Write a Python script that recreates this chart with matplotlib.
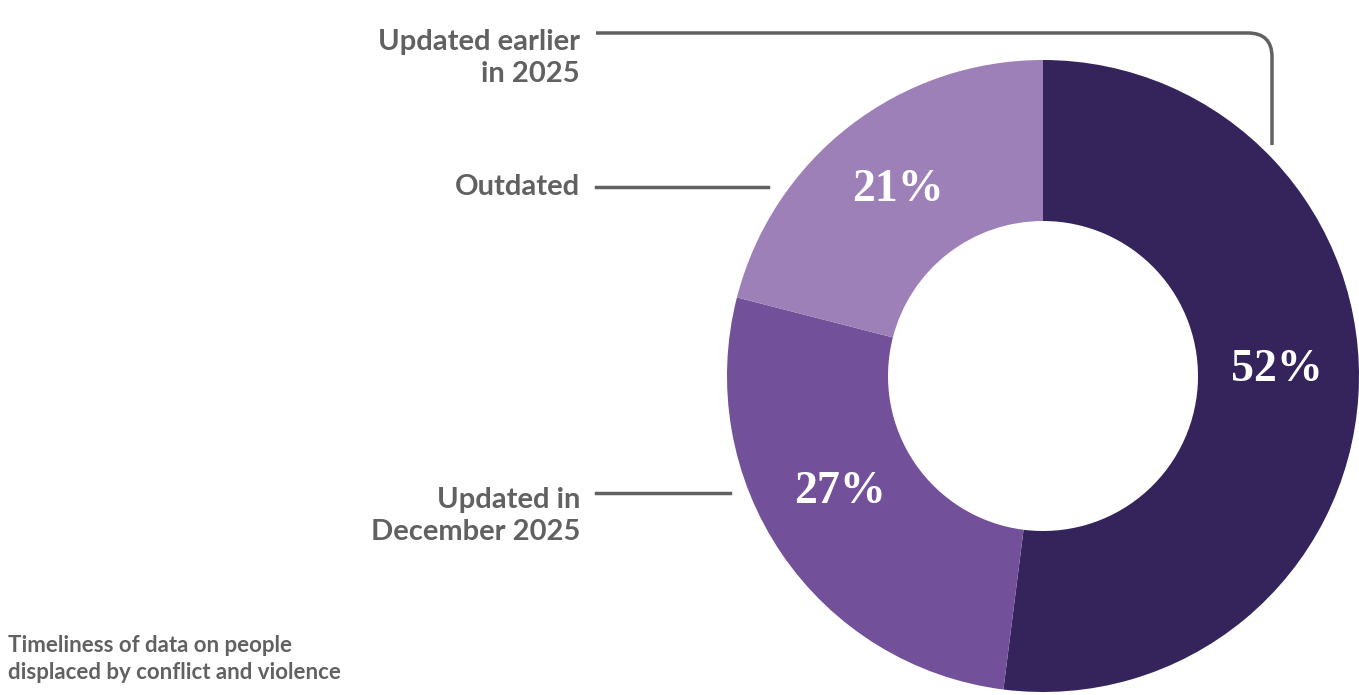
import matplotlib
matplotlib.use("Agg")
import matplotlib.pyplot as plt
from matplotlib.path import Path
from matplotlib.patches import PathPatch

shares = [52, 27, 21]
pct_labels = ["52%", "27%", "21%"]
colors = ["#35245c", "#72509a", "#9e80b8"]
callouts = ["Updated earlier\nin 2025", "Updated in\nDecember 2025", "Outdated"]
caption = "Timeliness of data on people\ndisplaced by conflict and violence"

W, H = 1359, 695
fig = plt.figure(figsize=(W / 100, H / 100), dpi=100)
ax = fig.add_axes([0, 0, 1, 1])
ax.set_xlim(0, W)
ax.set_ylim(0, H)
ax.set_aspect("equal")
ax.axis("off")

cx, cy, r = 1043, H - 376, 316
ax.pie(shares, colors=colors, startangle=90, counterclock=False,
       center=(cx, cy), radius=r, wedgeprops=dict(width=r - 155, linewidth=0),
       frame=True)
ax.set_xlim(0, W)
ax.set_ylim(0, H)
ax.axis("off")

pct_pos = [(1277, 370), (840, 492), (898, 190)]
for t, (x, y) in zip(pct_labels, pct_pos):
    ax.text(x, H - y, t, color="white", fontsize=33, fontweight="bold",
            family="Liberation Serif", ha="center", va="center")

gray = "#616161"
lab_kw = dict(color=gray, fontsize=21, fontweight="bold", ha="right",
              va="center", linespacing=1.25, family="Lato")
ax.text(580, H - 58, callouts[0], **lab_kw)
ax.text(580, H - 516, callouts[1], **lab_kw)
ax.text(580, H - 187, callouts[2], **lab_kw)

# connector lines
verts = [(596, H - 33), (1248, H - 33), (1272, H - 33), (1272, H - 57), (1272, H - 145)]
codes = [Path.MOVETO, Path.LINETO, Path.CURVE3, Path.CURVE3, Path.LINETO]
ax.add_patch(PathPatch(Path(verts, codes), fill=False, edgecolor=gray, lw=2.5))
ax.plot([596, 768], [H - 187, H - 187], color=gray, lw=2.5)
ax.plot([596, 730], [H - 493, H - 493], color=gray, lw=2.5)

ax.text(8, H - 659, caption, color=gray, fontsize=16, fontweight="bold",
        ha="left", va="center", linespacing=1.3, family="Lato")

fig.savefig("out.png", dpi=100)
